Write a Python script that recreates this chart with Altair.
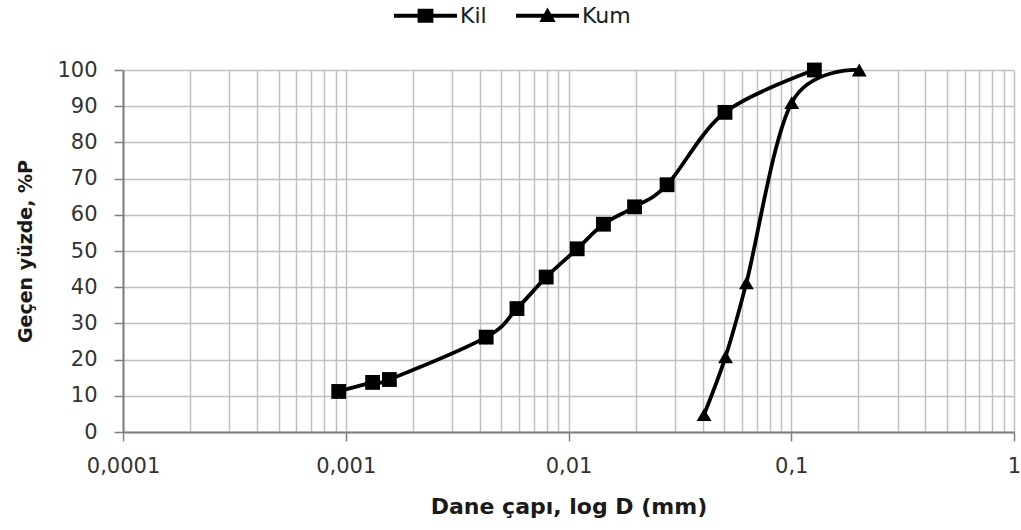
import altair as alt
import pandas as pd

# Kil (clay) grain size distribution
kil_d = [0.00093, 0.00132, 0.00157, 0.00427, 0.00587, 0.00794, 0.01094,
         0.01435, 0.0198, 0.0277, 0.0504, 0.127]
kil_p = [11.2, 13.7, 14.5, 26.2, 34.1, 42.8, 50.6, 57.4, 62.2, 68.3, 88.3, 100]
# Kum (sand)
kum_d = [0.0406, 0.0507, 0.0629, 0.1005, 0.202]
kum_p = [4.8, 20.8, 41.2, 91.0, 100]

series_names = ["Kil", "Kum"]
x_grid = [k * 10.0 ** e for e in range(-4, 0) for k in range(1, 10)] + [1.0]
y_ticks = [float(v) for v in range(0, 101, 10)]

df = pd.DataFrame(
    [{"seri": "Kil", "d": d, "p": p} for d, p in zip(kil_d, kil_p)]
    + [{"seri": "Kum", "d": d, "p": p} for d, p in zip(kum_d, kum_p)]
)

FONT = "DejaVu Sans"
GRID = "#c0c0c0"
AXIS = "#808080"
decade = "abs(log(datum.value)/LN10 - round(log(datum.value)/LN10)) < 0.001"

x_axis = alt.Axis(
    values=x_grid,
    title="Dane çapı, log D (mm)",
    titleFont=FONT, titleFontSize=22, titleFontWeight="bold",
    titleColor="#1a1a1a", titlePadding=20,
    labelFont=FONT, labelFontSize=21, labelColor="#333333",
    labelExpr=f"{decade} ? replace('' + datum.value, '.', ',') : ''",
    labelFlush=False, labelOverlap=False, labelPadding=14,
    grid=True, gridColor=GRID, gridWidth=1.5,
    domainColor=AXIS, domainWidth=2,
    tickSize=9, tickWidth=1.5,
    tickColor={"condition": {"test": decade, "value": AXIS}, "value": "transparent"},
)
y_axis = alt.Axis(
    values=y_ticks, tickCount=11,
    title="Geçen yüzde, %P",
    titleFont=FONT, titleFontSize=19, titleFontWeight="bold",
    titleColor="#1a1a1a", titlePadding=21,
    labelFont=FONT, labelFontSize=21, labelColor="#333333",
    labelPadding=17, labelOverlap=False,
    grid=True, gridColor=GRID, gridWidth=1.5,
    domainColor=AXIS, domainWidth=2,
    tickColor=AXIS, tickSize=9, tickWidth=1.5,
)
x_scale = alt.Scale(type="log", domain=[0.0001, 1], nice=False)
y_scale = alt.Scale(domain=[0, 100], nice=False)


def xe():
    return alt.X("d:Q", scale=x_scale, axis=x_axis)


def ye():
    return alt.Y("p:Q", scale=y_scale, axis=y_axis)


lines = alt.Chart(df).mark_line(
    interpolate="cardinal", color="#000000", strokeWidth=3.8
).encode(x=xe(), y=ye(), detail="seri:N")

points = alt.Chart(df).mark_point(
    filled=True, color="#000000", opacity=1, size=220
).encode(
    x=xe(), y=ye(),
    shape=alt.Shape("seri:N", scale=alt.Scale(domain=series_names,
                                              range=["square", "triangle-up"]),
                    legend=None),
)

legend_paths = [
    "M-1,-0.065H1V0.065H-1Z M-0.25,-0.22H0.25V0.22H-0.25Z",
    "M-1,-0.065H1V0.065H-1Z M0,-0.26L0.26,0.2H-0.26Z",
]
legend_layer = alt.Chart(df).mark_point(
    filled=True, color="#000000", opacity=0
).encode(
    x=xe(), y=ye(),
    shape=alt.Shape(
        "seri:N",
        scale=alt.Scale(domain=series_names, range=legend_paths),
        legend=alt.Legend(
            title=None, orient="none", direction="horizontal",
            legendX=271, legendY=-86,
            symbolSize=3969, symbolOpacity=1, symbolFillColor="#000000",
            symbolStrokeWidth=0, labelFont=FONT, labelFontSize=22,
            labelColor="#1a1a1a", labelOffset=3, columnPadding=29, padding=0,
        ),
    ),
)

chart = alt.layer(lines, points, legend_layer).resolve_scale(
    shape="independent"
).properties(
    width=891, height=362,
    autosize=alt.AutoSizeParams(type="none"),
    padding={"left": 123, "top": 70, "right": 7, "bottom": 98},
    background="#ffffff",
).configure_view(stroke=None)

chart.save("out.html", embed_options={"renderer": "svg", "actions": False})
